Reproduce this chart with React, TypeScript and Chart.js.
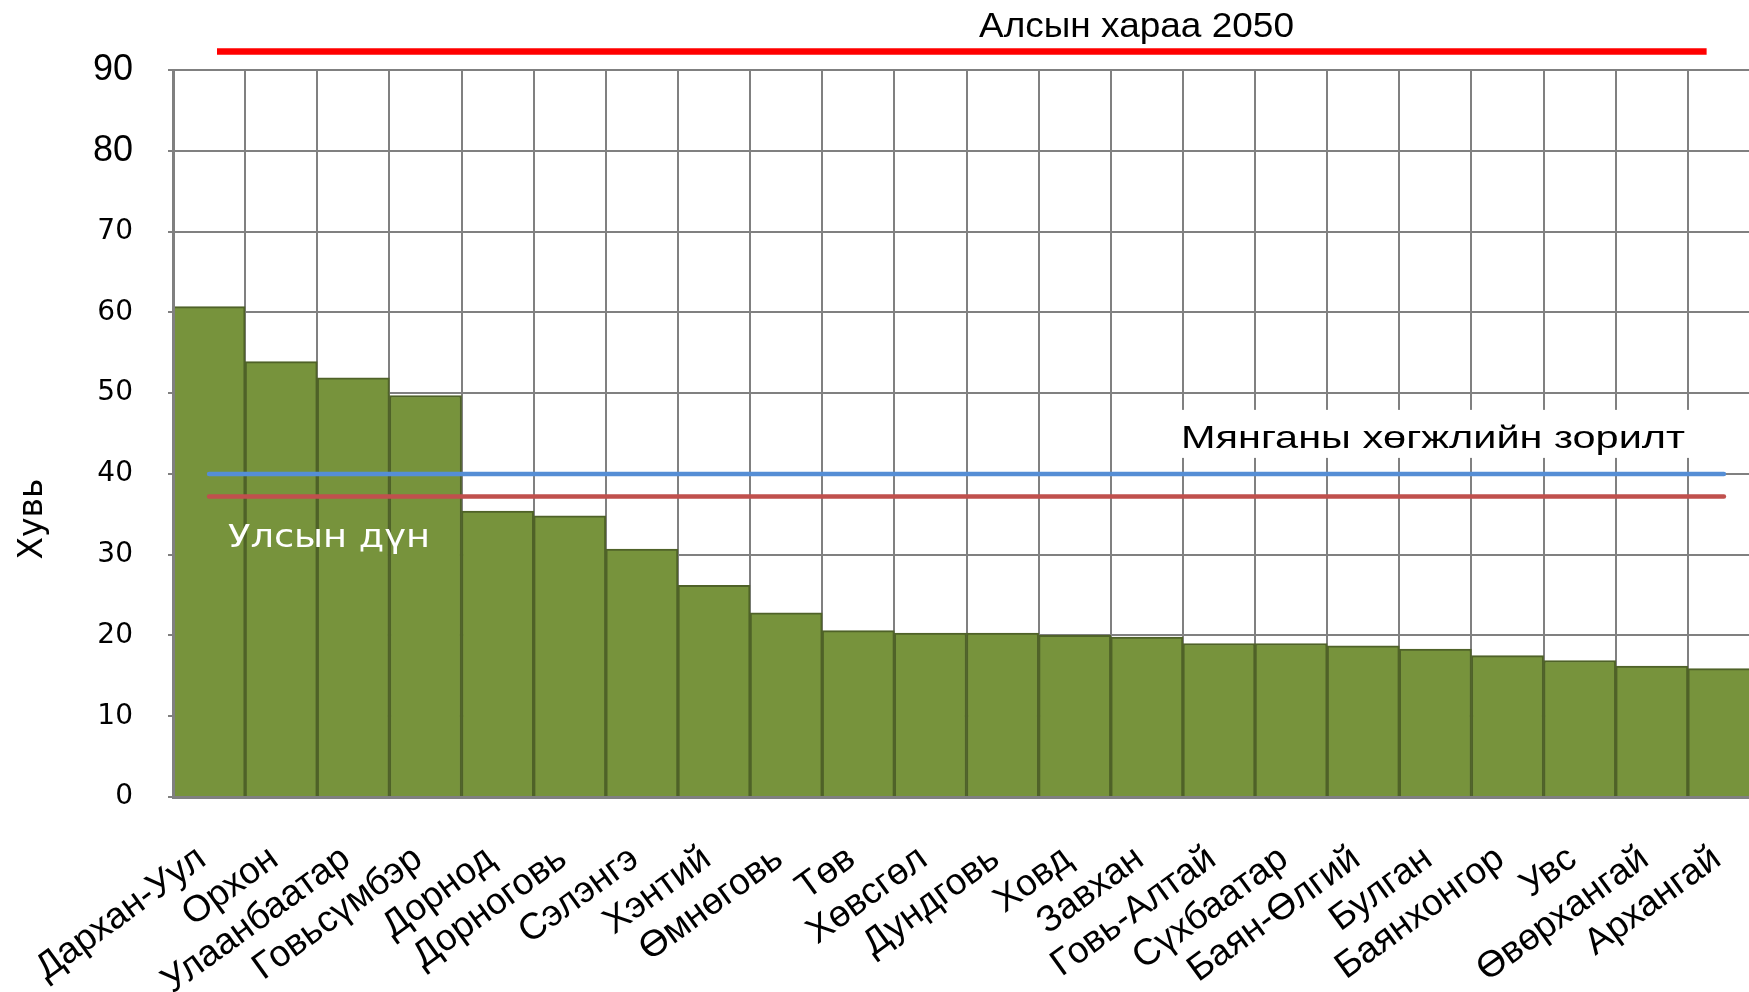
import React, { useEffect, useRef } from 'react';
import { Chart, registerables } from 'chart.js';

Chart.register(...registerables);

// ---------- data ----------
const regions: string[] = [
  'Дархан-Уул', 'Орхон', 'Улаанбаатар', 'Говьсүмбэр', 'Дорнод', 'Дорноговь',
  'Сэлэнгэ', 'Хэнтий', 'Өмнөговь', 'Төв', 'Хөвсгөл', 'Дундговь', 'Ховд',
  'Завхан', 'Говь-Алтай', 'Сүхбаатар', 'Баян-Өлгий', 'Булган', 'Баянхонгор',
  'Увс', 'Өвөрхангай', 'Архангай',
];
const shares: number[] = [
  60.7, 53.9, 51.9, 49.7, 35.4, 34.8, 30.7, 26.2, 22.8, 20.6, 20.3, 20.3, 20.0,
  19.8, 19.0, 19.0, 18.7, 18.3, 17.5, 16.9, 16.2, 15.9,
];
const mdgTarget = 40;          // Мянганы хөгжлийн зорилт
const nationalAverage = 37.2;  // Улсын дүн
const vision2050Level = 92.3;  // Алсын хараа 2050 (drawn just above the grid)
const vision2050Span: number[] = [0.11, 20.76]; // category-index extent
const yMin = 0;
const yMax = 90;
const yStep = 10;

const texts = {
  vision: 'Алсын хараа 2050',
  mdg: 'Мянганы хөгжлийн зорилт',
  national: 'Улсын дүн',
  yTitle: 'Хувь',
};

// ---------- styles ----------
const GRID = '#808080';
const BAR_FILL = '#77933C';
const BAR_EDGE = '#4F6228';
const BLUE = '#558ED5';
const RED = '#C0504D';

function drawFitted(
  ctx: CanvasRenderingContext2D,
  text: string,
  font: string,
  color: string,
  x0: number,
  baseline: number,
  width: number,
) {
  ctx.save();
  ctx.font = font;
  const w = ctx.measureText(text).width;
  ctx.translate(x0, baseline);
  ctx.scale(width / w, 1);
  ctx.fillStyle = color;
  ctx.textAlign = 'left';
  ctx.textBaseline = 'alphabetic';
  ctx.fillText(text, 0, 0);
  ctx.restore();
}

const annotationPlugin = {
  id: 'annotations',
  beforeDatasetsDraw(chart: any) {
    const { ctx, scales } = chart;
    const yMdg = scales.y.getPixelForValue(mdgTarget);
    ctx.save();
    ctx.fillStyle = '#ffffff';
    ctx.fillRect(1165, yMdg - 64, 540, 48);
    ctx.restore();
  },
  afterDatasetsDraw(chart: any) {
    const { ctx, scales } = chart;
    const yMdg = scales.y.getPixelForValue(mdgTarget);
    const yNat = scales.y.getPixelForValue(nationalAverage);
    const yVis = scales.y.getPixelForValue(vision2050Level);
    drawFitted(ctx, texts.vision, '35px "Liberation Sans"', '#000', 979, yVis - 14, 315);
    drawFitted(ctx, texts.mdg, '32px "Liberation Sans"', '#000', 1181, yMdg - 26, 504);
    drawFitted(ctx, texts.national, '32px "DejaVu Sans"', '#ffffff', 228, yNat + 50, 202);
    // rotated y-axis title
    ctx.save();
    ctx.font = '33px "DejaVu Sans"';
    ctx.fillStyle = '#000';
    ctx.translate(42, 519);
    ctx.rotate(-Math.PI / 2);
    ctx.textAlign = 'center';
    ctx.textBaseline = 'alphabetic';
    ctx.fillText(texts.yTitle, 0, 0);
    ctx.restore();
  },
};

export default function App() {
  const canvasRef = useRef<HTMLCanvasElement | null>(null);

  useEffect(() => {
    if (!canvasRef.current) return;
    Chart.defaults.font.family = '"DejaVu Sans"';
    const constLine = (v: number) => regions.map(() => v);
    const chart = new Chart(canvasRef.current, {
      type: 'bar',
      data: {
        labels: regions,
        datasets: [
          {
            type: 'line',
            label: texts.mdg,
            data: constLine(mdgTarget),
            borderColor: BLUE,
            borderWidth: 4.5,
            borderCapStyle: 'round',
            pointRadius: 0,
            fill: false,
            order: 1,
          } as any,
          {
            type: 'line',
            label: texts.national,
            data: constLine(nationalAverage),
            borderColor: RED,
            borderWidth: 4.5,
            borderCapStyle: 'round',
            pointRadius: 0,
            fill: false,
            order: 1,
          } as any,
          {
            type: 'line',
            label: texts.vision,
            xAxisID: 'x2',
            data: vision2050Span.map((x) => ({ x, y: vision2050Level })),
            borderColor: '#FF0000',
            borderWidth: 6.5,
            borderCapStyle: 'butt',
            pointRadius: 0,
            fill: false,
            clip: false,
            order: 1,
          } as any,
          {
            type: 'bar',
            label: 'Хувь',
            data: shares,
            backgroundColor: BAR_FILL,
            borderColor: BAR_EDGE,
            borderWidth: 2,
            categoryPercentage: 1,
            barPercentage: 1,
            grouped: false,
            order: 3,
          } as any,
        ],
      },
      options: {
        responsive: false,
        animation: false,
        devicePixelRatio: 1,
        layout: { padding: { top: 70, right: 2, left: 0, bottom: 0 } },
        plugins: { legend: { display: false }, tooltip: { enabled: false }, title: { display: false } },
        scales: {
          x: {
            type: 'category',
            offset: true,
            grid: { offset: true, color: GRID, lineWidth: 2, drawTicks: false },
            border: { display: true, color: GRID, width: 3, z: 1 },
            ticks: {
              autoSkip: false,
              minRotation: 36,
              maxRotation: 36,
              padding: 40,
              labelOffset: -7,
              color: '#000',
              font: { family: '"Liberation Sans"', size: 37 },
            },
            afterFit: (s: any) => {
              s.height = 195;
              s.paddingLeft = 0;
              s.paddingRight = 0;
            },
          },
          x2: {
            type: 'linear',
            display: false,
            offset: false,
            grid: { offset: false },
            min: -0.5,
            max: regions.length - 0.5,
          },
          y: {
            min: yMin,
            max: yMax,
            grid: { color: GRID, lineWidth: 2, tickLength: 5 },
            border: { display: true, color: GRID, width: 3, z: 1 },
            ticks: {
              stepSize: yStep,
              padding: 35,
              color: '#000',
              font: (c: any) =>
                c.tick && c.tick.value >= 80
                  ? { family: '"Liberation Sans"', size: 36 }
                  : { family: '"DejaVu Sans"', size: 28 },
            },
            afterFit: (s: any) => {
              s.width = 173;
              s.paddingTop = 0;
              s.paddingBottom = 0;
            },
          },
        },
      } as any,
      plugins: [annotationPlugin],
    });
    return () => chart.destroy();
  }, []);

  return (
    <div
      style={{
        position: 'fixed',
        left: 0,
        top: 0,
        width: '100vw',
        height: '100vh',
        overflow: 'hidden',
        background: '#ffffff',
      }}
    >
      <canvas ref={canvasRef} width={1762} height={992} style={{ display: 'block' }} />
    </div>
  );
}
